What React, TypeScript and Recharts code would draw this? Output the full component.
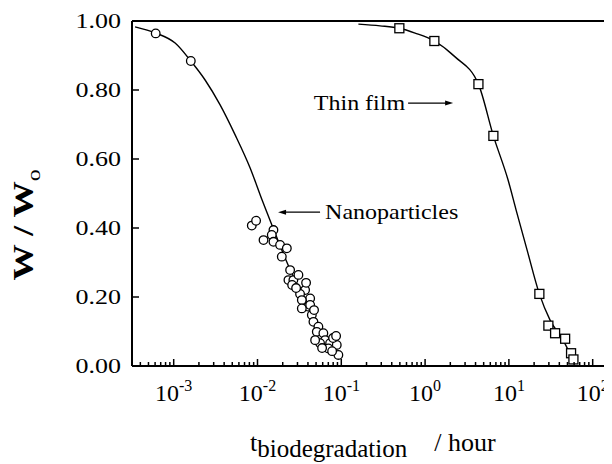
import { ComposedChart, Line, ReferenceLine, Scatter, XAxis, YAxis } from "recharts";

const SERIF = "'Liberation Serif', 'Times New Roman', serif";

// nanoparticles, measured points (t in hours, W/Wo)
const nanoTime = [
  0.00061, 0.0016, 0.00855, 0.00962, 0.0155, 0.0118, 0.0148, 0.0155, 0.0186, 0.0224, 0.0195, 0.0245,
  0.0234, 0.0268, 0.0308, 0.0259, 0.037, 0.0322, 0.0425, 0.0338, 0.0405, 0.0338, 0.0445, 0.0465,
  0.0533, 0.051, 0.0611, 0.0641, 0.0558, 0.0735, 0.0883, 0.0702, 0.0923, 0.0487, 0.059, 0.0798,
  0.0867, 0.0777, 0.038, 0.0289, 0.0425, 0.0473,
];
const nanoMass = [
  0.964, 0.884, 0.407, 0.421, 0.394, 0.365, 0.38, 0.36, 0.351, 0.341, 0.317, 0.278, 0.249, 0.249,
  0.264, 0.235, 0.22, 0.209, 0.196, 0.191, 0.172, 0.167, 0.148, 0.128, 0.114, 0.099, 0.095, 0.075,
  0.066, 0.066, 0.061, 0.051, 0.032, 0.075, 0.052, 0.081, 0.087, 0.043, 0.241, 0.226, 0.177, 0.162,
];

// fitted curve through the nanoparticle data
const nanoFitTime = [
  0.000346, 0.000611, 0.00104, 0.0016, 0.00237, 0.00358, 0.00541, 0.00817, 0.01135, 0.01535, 0.02134,
  0.0297, 0.0425, 0.059, 0.0843,
];
const nanoFitMass = [
  0.983, 0.965, 0.936, 0.884, 0.829, 0.757, 0.67, 0.574, 0.481, 0.4, 0.313, 0.235, 0.162, 0.104, 0.058,
];

// thin film
const filmTime = [0.493, 1.29, 4.33, 6.53, 23.1, 29.6, 35.6, 46.9, 55.2, 58.9];
const filmMass = [0.979, 0.942, 0.817, 0.667, 0.209, 0.117, 0.095, 0.079, 0.037, 0.019];

const filmFitTime = [0.16, 0.29, 0.493, 0.76, 1.29, 2.28, 4.33, 6.53, 9.78, 12.2, 16.5, 23.1, 31.0, 44.3, 58.4];
const filmFitMass = [0.991, 0.986, 0.979, 0.965, 0.942, 0.896, 0.817, 0.667, 0.539, 0.452, 0.336, 0.209, 0.133, 0.075, 0.017];

const xMajor = [0.001, 0.01, 0.1, 1, 10, 100];
const minorDecades = [0.0001, 0.001, 0.01, 0.1, 1, 10];
const minorSteps = [2, 3, 4, 5, 6, 7, 8, 9];
const xMin = 0.000318;
const xMax = 170;
const xTicks = [
  ...xMajor,
  ...minorDecades.flatMap((d) => minorSteps.map((m) => m * d)),
].filter((v) => v >= xMin && v <= xMax).sort((a, b) => a - b);

const yTicks = [0, 0.2, 0.4, 0.6, 0.8, 1.0];

const zip = (xs: number[], ys: number[]) => xs.map((x, i) => ({ x, y: ys[i] }));
const nanoPts = zip(nanoTime, nanoMass);
const nanoFit = zip(nanoFitTime, nanoFitMass);
const filmPts = zip(filmTime, filmMass);
const filmFit = zip(filmFitTime, filmFitMass);

function XTick({ x, y, payload }: any) {
  const lg = Math.log10(payload.value);
  const exp = Math.round(lg);
  const major = Math.abs(lg - exp) < 1e-6;
  return (
    <g>
      <line x1={x} x2={x} y1={y} y2={y - (major ? 7 : 4)} stroke="#000" strokeWidth={1.5} />
      {major && (
        <text x={x} y={y + 35} textAnchor="middle" fontFamily={SERIF} fontSize={24} fill="#000">
          10
          <tspan dy={-10} fontSize={16}>
            {exp}
          </tspan>
        </text>
      )}
    </g>
  );
}

function YTick({ x, y, payload }: any) {
  return (
    <g>
      <line x1={x} x2={x + 7} y1={y} y2={y} stroke="#000" strokeWidth={1.5} />
      <text
        transform={`translate(${x - 11},${y + 7}) scale(1.3,1)`}
        textAnchor="end"
        fontFamily={SERIF}
        fontSize={20}
        fill="#000"
      >
        {payload.value.toFixed(2)}
      </text>
    </g>
  );
}

const Ring = (p: any) => <circle cx={p.cx} cy={p.cy} r={4.3} fill="#fff" stroke="#000" strokeWidth={1.3} />;
const Box = (p: any) => (
  <rect x={p.cx - 4.5} y={p.cy - 4.5} width={9} height={9} fill="#fff" stroke="#000" strokeWidth={1.3} />
);

// arrow from (x1,y1) tail to (x2,y2) head, text next to the tail
function arrowNote(text: string) {
  return (p: any) => {
    const { x1, y1, x2, y2 } = p;
    const dir = x2 > x1 ? 1 : -1;
    const tx = dir > 0 ? x1 - 3 : x1 + 5;
    return (
      <g>
        <line x1={x1} y1={y1} x2={x2 - dir * 6} y2={y2} stroke="#000" strokeWidth={1.3} />
        <polygon points={`${x2},${y2} ${x2 - dir * 8},${y2 - 2.5} ${x2 - dir * 8},${y2 + 2.5}`} fill="#000" />
        <text
          transform={`translate(${tx},${y1 + 7}) scale(1.2,1)`}
          textAnchor={dir > 0 ? "end" : "start"}
          fontFamily={SERIF}
          fontSize={20}
          fill="#000"
        >
          {text}
        </text>
      </g>
    );
  };
}

export default function App() {
  return (
    <div style={{ width: 604, height: 456, position: "relative" }}>
      <ComposedChart width={604} height={456} margin={{ top: 13, right: 0, left: 64, bottom: 38 }}>
        <XAxis
          dataKey="x"
          type="number"
          scale="log"
          domain={[xMin, xMax]}
          allowDataOverflow
          ticks={xTicks}
          interval={0}
          height={60}
          tickSize={0}
          tickMargin={0}
          tickLine={false}
          axisLine={{ stroke: "#000", strokeWidth: 2 }}
          tick={<XTick />}
        />
        <YAxis
          dataKey="y"
          type="number"
          domain={[0, 1]}
          ticks={yTicks}
          interval={0}
          width={60}
          tickSize={0}
          tickMargin={0}
          tickLine={false}
          axisLine={{ stroke: "#000", strokeWidth: 2 }}
          tick={<YTick />}
        />
        <ReferenceLine y={1} stroke="#000" strokeWidth={2} />
        <Line data={nanoFit} dataKey="y" type="monotone" stroke="#000" strokeWidth={1.4} dot={false} isAnimationActive={false} />
        <Line data={filmFit} dataKey="y" type="monotone" stroke="#000" strokeWidth={1.4} dot={false} isAnimationActive={false} />
        <Scatter data={nanoPts} dataKey="y" shape={Ring} isAnimationActive={false} />
        <Scatter data={filmPts} dataKey="y" shape={Box} isAnimationActive={false} />
        <ReferenceLine
          segment={[{ x: 0.0558, y: 0.446 }, { x: 0.0176, y: 0.446 }]}
          ifOverflow="visible"
          shape={arrowNote("Nanoparticles")}
        />
        <ReferenceLine
          segment={[{ x: 0.627, y: 0.762 }, { x: 2.16, y: 0.762 }]}
          ifOverflow="visible"
          shape={arrowNote("Thin film")}
        />
      </ComposedChart>
      <svg width={604} height={456} style={{ position: "absolute", left: 0, top: 0, pointerEvents: "none" }}>
        <text
          transform="translate(25,217) rotate(-90) scale(1.25,1)"
          textAnchor="middle"
          fontFamily={SERIF}
          fontWeight="bold"
          fontSize={29}
          fill="#000"
        >
          W / W
          <tspan dy={7} fontSize={19} fontWeight="normal">
            o
          </tspan>
        </text>
        <text x={242} y={443} fontFamily={SERIF} fontSize={26} fill="#000">
          t
          <tspan dy={6} fontSize={25}>
            biodegradation
          </tspan>
          <tspan dy={-6} dx={27}>
            / hour
          </tspan>
        </text>
      </svg>
    </div>
  );
}
